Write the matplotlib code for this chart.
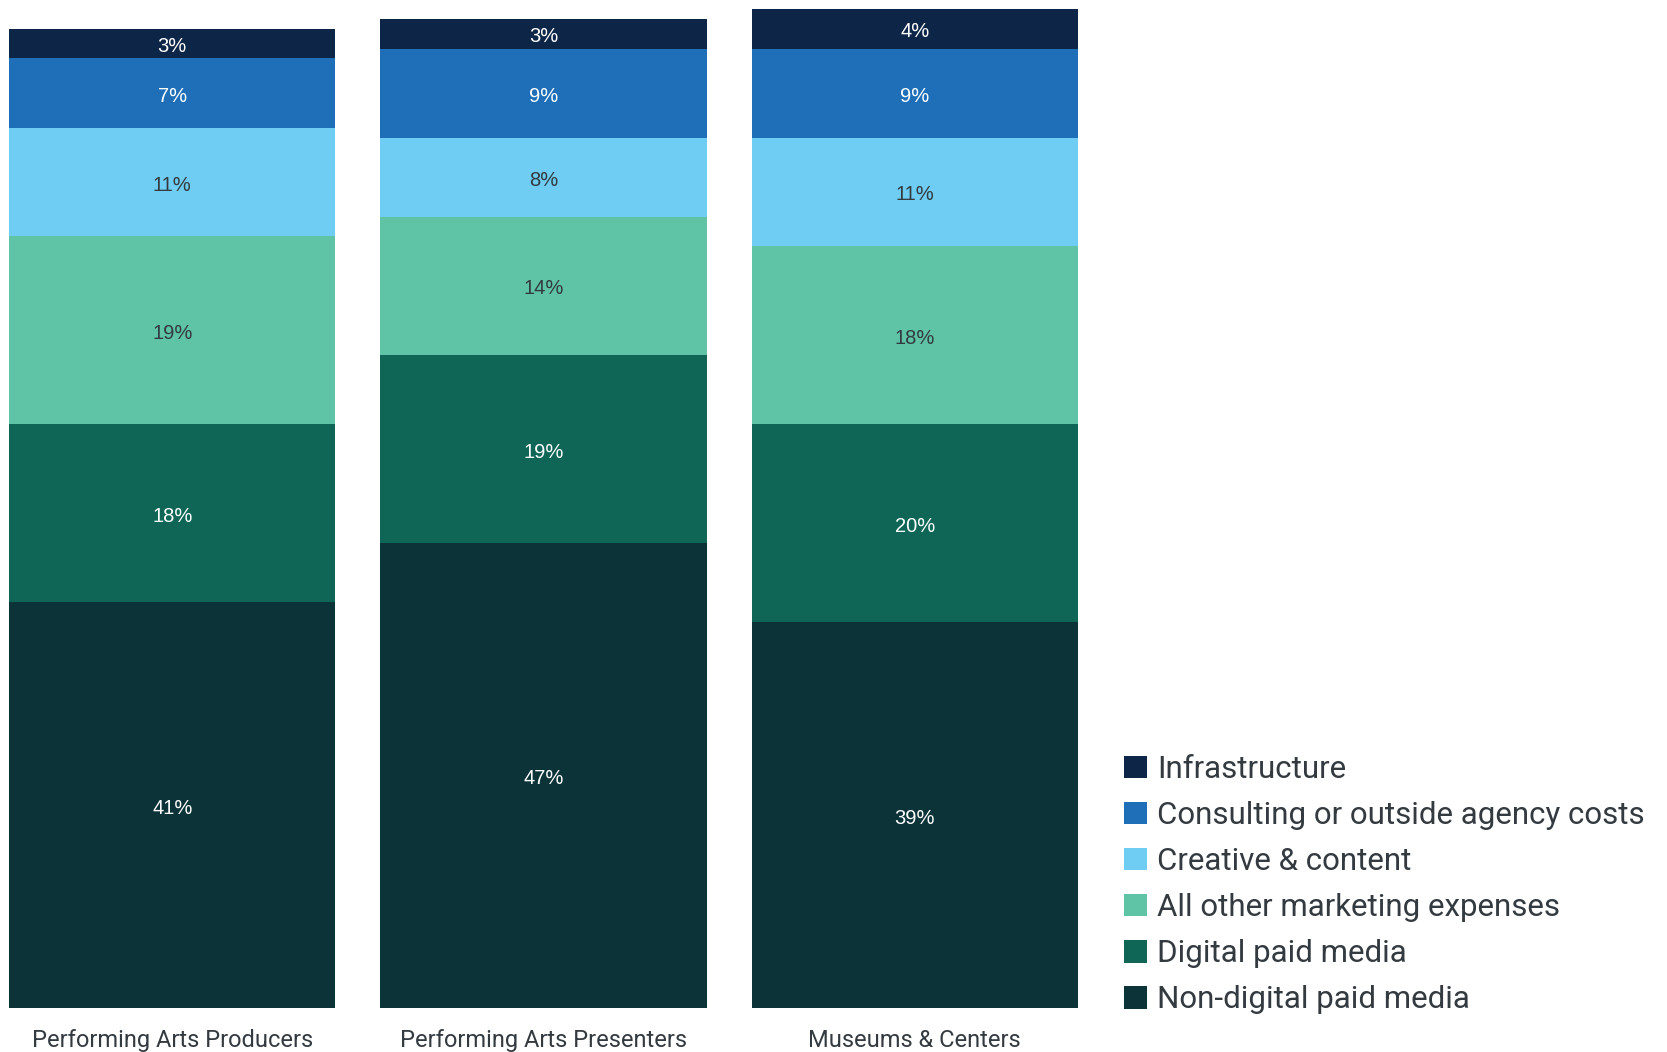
import matplotlib
matplotlib.use("Agg")
import matplotlib.pyplot as plt
from matplotlib.patches import Patch

# Marketing budget shares by organisation type (percent)
groups = ["Performing Arts Producers", "Performing Arts Presenters", "Museums & Centers"]
series = ["Non-digital paid media", "Digital paid media", "All other marketing expenses",
          "Creative & content", "Consulting or outside agency costs", "Infrastructure"]
non_digital = [41, 47, 39]
digital = [18, 19, 20]
all_other = [19, 14, 18]
creative = [11, 8, 11]
consulting = [7, 9, 9]
infrastructure = [3, 3, 4]

values = [non_digital, digital, all_other, creative, consulting, infrastructure]
colors = ["#0B3338", "#0F6657", "#5FC4A6", "#6FCDF3", "#1F6FB8", "#0D2648"]
label_colors = ["#FFFFFF", "#FFFFFF", "#333A40", "#333A40", "#FFFFFF", "#FFFFFF"]

W, H = 1667, 1052
fig = plt.figure(figsize=(W / 100, H / 100), dpi=100)
left, right, bottom, top = 9, 1078, 1008, 9
ax = fig.add_axes([left / W, (H - bottom) / H, (right - left) / W, (bottom - top) / H])

x = range(len(groups))
width = 0.879
base = [0, 0, 0]
for vals, col, lc in zip(values, colors, label_colors):
    ax.bar(x, vals, width=width, bottom=base, color=col, linewidth=0)
    for i, (b, v) in enumerate(zip(base, vals)):
        ax.text(i, b + v / 2 - 0.3, f"{v}%", ha="center", va="center",
                fontsize=14.5, color=lc, family="Liberation Sans")
    base = [b + v for b, v in zip(base, vals)]

ax.set_xlim(-width / 2, len(groups) - 1 + width / 2)
ax.set_ylim(0, 101)
ax.set_xticks(list(x))
ax.set_xticklabels(groups, fontsize=17, color="#333A40", family="Roboto")
ax.tick_params(axis="x", length=0, pad=15)
ax.set_yticks([])
for s in ax.spines.values():
    s.set_visible(False)

handles = [Patch(facecolor=c, edgecolor="none") for c in colors][::-1]
fig.legend(handles, series[::-1], loc="lower left",
           bbox_to_anchor=(1124 / W, (H - 1014) / H), frameon=False,
           labelcolor="#333A40", prop={"family": "Roboto", "size": 22.5},
           handlelength=0.75, handleheight=0.75, handletextpad=0.3,
           labelspacing=0.545, borderpad=0, borderaxespad=0)

fig.savefig("out.png", dpi=100)
